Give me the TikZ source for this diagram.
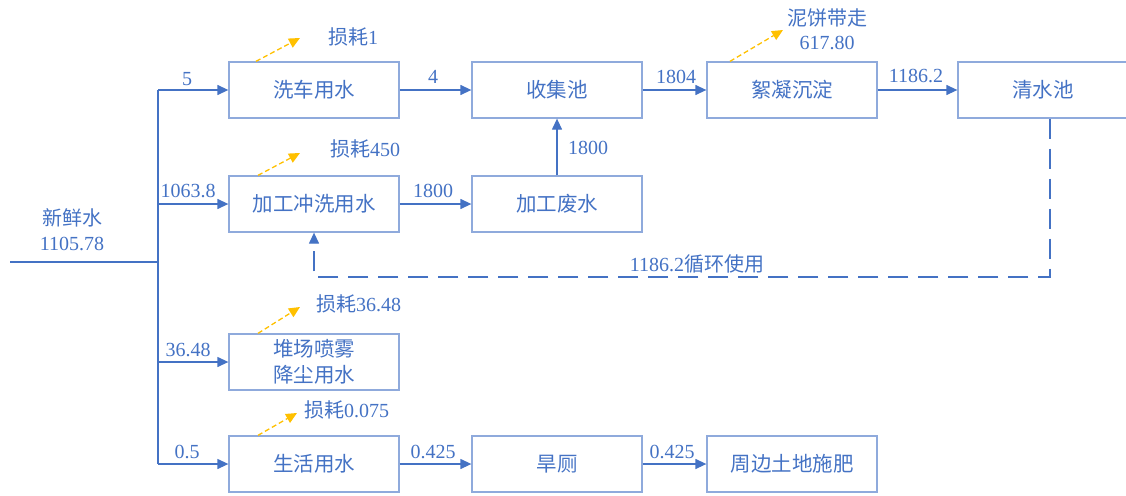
\documentclass[tikz,border=0pt]{standalone}
\usepackage{fontspec}
\setmainfont{Liberation Serif}
\newfontfamily\cjk{Noto Sans CJK SC}
\usetikzlibrary{arrows.meta}
\definecolor{lb}{RGB}{68,114,196}
\definecolor{bb}{RGB}{143,170,220}
\definecolor{og}{RGB}{255,192,0}
\begin{document}
\begin{tikzpicture}[x=1pt,y=-1pt,
  font=\fontsize{20}{26}\selectfont, text=lb,
  box/.style={draw=bb, line width=1.3pt, minimum width=170pt, minimum height=56pt, inner sep=0pt, align=center, font=\fontsize{20.5}{26}\selectfont\cjk},
  flow/.style={draw=lb, line width=1.3pt, -{Triangle[length=11pt,width=10pt]}},
  wire/.style={draw=lb, line width=1.3pt},
  loss/.style={draw=og, line width=1.3pt, dash pattern=on 5pt off 3pt, -{Triangle[length=11pt,width=10pt]}},
  recyc/.style={draw=lb, line width=1.3pt, dash pattern=on 20pt off 10pt, -{Triangle[length=11pt,width=10pt]}},
  lbl/.style={inner sep=0pt}]
\useasboundingbox (0,0) rectangle (1126,495);

% boxes
\node[box] (xc) at (314,90) {洗车用水};
\node[box] (sj) at (557,90) {收集池};
\node[box] (xn) at (792,90) {絮凝沉淀};
\node[box] (qs) at (1043,90) {清水池};
\node[box] (jg) at (314,204) {加工冲洗用水};
\node[box] (fs) at (557,204) {加工废水};
\node[box] (dc) at (314,362) {堆场喷雾\\降尘用水};
\node[box] (sh) at (314,464) {生活用水};
\node[box] (hc) at (557,464) {旱厕};
\node[box] (zb) at (792,464) {周边土地施肥};

% fresh water trunk
\coordinate (in) at (10,262);
\coordinate (tj) at (158,262);
\coordinate (t1) at (158,90);
\coordinate (t2) at (158,204);
\coordinate (t3) at (158,362);
\coordinate (t4) at (158,464);
\draw[wire] (in) -- (tj);
\draw[wire] (t1) -- (t4);
\draw[flow] (t1) -- (xc.west);
\draw[flow] (t2) -- (jg.west);
\draw[flow] (t3) -- (dc.west);
\draw[flow] (t4) -- (sh.west);
\node[lbl] (lfw) at (72,218) {\cjk 新鲜水};
\node[lbl] (lfv) at (72,244) {1105.78};
\node[lbl] (l5) at (187,79) {5};
\node[lbl] (l10) at (188,191) {1063.8};
\node[lbl] (l36) at (188,350) {36.48};
\node[lbl] (l05) at (187,452) {0.5};

% main flows
\draw[flow] (xc) -- (sj);
\node[lbl] (l4) at (433,77) {4};
\draw[flow] (sj) -- (xn);
\node[lbl] (l1804) at (676,77) {1804};
\draw[flow] (xn) -- (qs);
\node[lbl] (l1186) at (916,76) {1186.2};
\draw[flow] (jg) -- (fs);
\node[lbl] (l1800a) at (433,191) {1800};
\draw[flow] (fs) -- (sj);
\node[lbl] (l1800b) at (588,148) {1800};
\draw[flow] (sh) -- (hc);
\node[lbl] (l0425a) at (433,452) {0.425};
\draw[flow] (hc) -- (zb);
\node[lbl] (l0425b) at (672,452) {0.425};

% recycle
\coordinate (r1) at (1050,277);
\coordinate (r2) at (314,277);
\draw[recyc] ([xshift=7pt]qs.south) -- (r1) -- (r2) -- (jg.south);
\node[lbl] (lrec) at (697,264) {1186.2{\cjk 循环使用}};

% losses
\coordinate (o1) at (300,38);
\coordinate (o2) at (300,153);
\coordinate (o3) at (300,307);
\coordinate (o4) at (297,413);
\coordinate (o5) at (783,30);
\draw[loss] ([xshift=-58pt]xc.north) -- (o1);
\draw[loss] ([xshift=-56pt]jg.north) -- (o2);
\draw[loss] ([xshift=-56pt]dc.north) -- (o3);
\draw[loss] ([xshift=-56pt]sh.north) -- (o4);
\draw[loss] ([xshift=-62pt]xn.north) -- (o5);
\node[lbl, anchor=west] (ls1) at (328,37) {{\cjk 损耗}1};
\node[lbl, anchor=west] (ls2) at (330,149) {{\cjk 损耗}450};
\node[lbl, anchor=west] (ls3) at (316,304) {{\cjk 损耗}36.48};
\node[lbl, anchor=west] (ls4) at (304,410) {{\cjk 损耗}0.075};
\node[lbl] (ls5a) at (827,18) {\cjk 泥饼带走};
\node[lbl] (ls5b) at (827,43) {617.80};
\end{tikzpicture}
\end{document}
